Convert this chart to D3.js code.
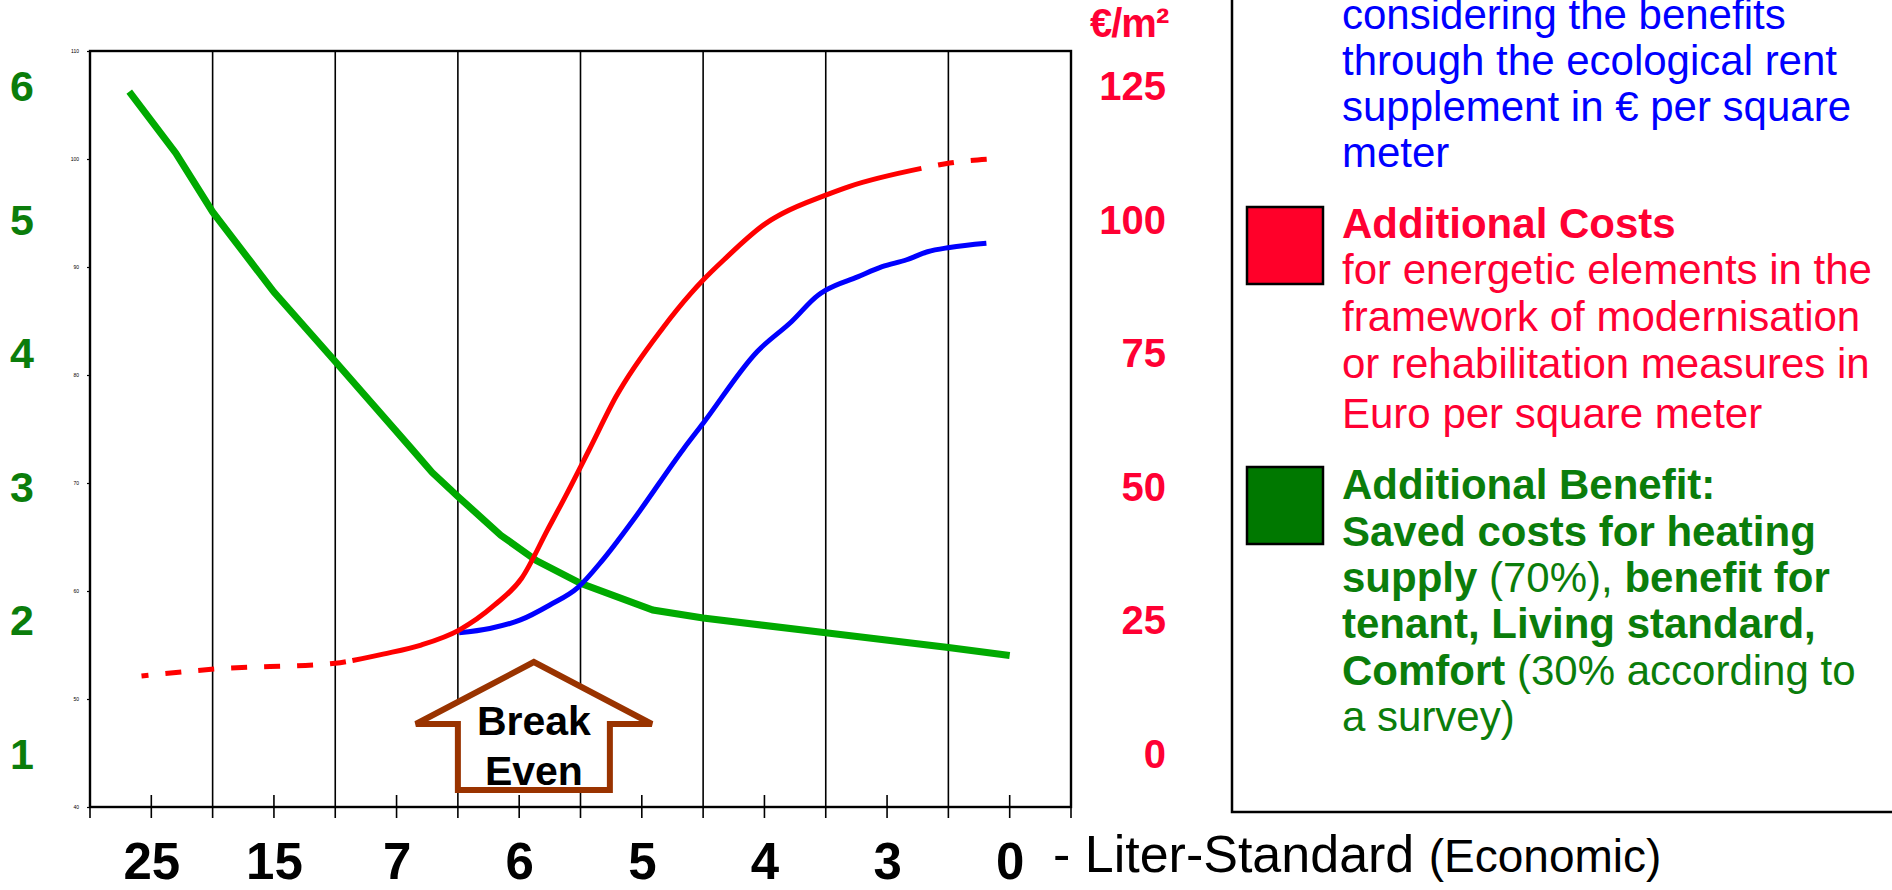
<!DOCTYPE html>
<html>
<head>
<meta charset="utf-8">
<script src="https://d3js.org/d3.v7.min.js"></script>
<style>
body { margin: 0; background: #fff; }
text { font-family: "Liberation Sans", Arial, sans-serif; }
</style>
</head>
<body>
<script>
// x categories (liter standard), left to right
var xLabels = ["25", "15", "7", "6", "5", "4", "3", "0"];
var benefitTicks = [1, 2, 3, 4, 5, 6];
var costTicks = [0, 25, 50, 75, 100, 125];
var baseTicks = [40, 50, 60, 70, 80, 90, 100, 110];

// [position along the x axis (0..8), value]
var benefit = [[0.32,5.95],[0.70,5.49],[1.0,5.05],[1.5,4.45],[2.0,3.93],[2.62,3.28],[2.79,3.10],[3.0,2.92],
	[3.35,2.63],[3.64,2.44],[4.0,2.27],[4.59,2.07],[5.0,2.01],[6.0,1.90],[7.0,1.79],[7.5,1.73]];
var costLowGuess = [[0.42,14.4],[1.01,15.7],[2.0,16.8],[2.14,17.3]];
var cost = [[2.14,17.3],[2.39,18.5],[2.70,20.2],[3.01,23.0],[3.30,27.7],[3.52,32.7],[3.73,41.7],[3.89,48.6],
	[4.07,56.7],[4.29,66.7],[4.67,79.5],[4.90,86.0],[5.0,88.5],[5.17,92.3],[5.53,99.4],[5.65,101.0],
	[6.0,104.4],[6.19,106.0],[6.78,109.4]];
var costHighGuess = [[6.78,109.4],[7.01,110.4],[7.32,111.1]];
var rentSupplement = [[3.01,22.5],[3.26,23.3],[3.51,24.9],[3.75,27.7],[3.98,31.0],[4.18,36.1],[4.43,43.6],
	[4.84,56.9],[5.0,61.7],[5.44,75.1],[5.72,80.7],[5.94,85.7],[6.0,86.6],[6.26,89.1],[6.46,91.0],
	[6.66,92.3],[6.83,93.8],[7.01,94.6],[7.31,95.4]];

var chart = {};
chart.w = 1892;
chart.h = 890;
chart.left = 90;
chart.right = 1071;
chart.top = 51;
chart.bottom = 807;

var greenText = "#0b7d0b";
var redText = "#ff0033";

var svg = d3.select("body").append("svg")
	.attr("width", chart.w)
	.attr("height", chart.h);

var x = d3.scaleLinear().domain([0, 8]).range([chart.left, chart.right]);
var yBenefit = d3.scaleLinear().domain([1, 6]).range([753, 85]);
var yCost = d3.scaleLinear().domain([0, 125]).range([753, 85]);
var yBase = d3.scaleLinear().domain([40, 110]).range([chart.bottom, chart.top]);

// vertical grid lines, running a bit under the axis
svg.append("g").selectAll("line")
	.data(d3.range(1, 8))
	.enter().append("line")
	.attr("x1", function(d){ return x(d); })
	.attr("x2", function(d){ return x(d); })
	.attr("y1", chart.top)
	.attr("y2", chart.bottom + 11)
	.style("stroke", "#000")
	.style("stroke-width", 1.6);

// small ticks in the middle of each category
svg.append("g").selectAll("line")
	.data(d3.range(0.5, 8, 1))
	.enter().append("line")
	.attr("x1", function(d){ return x(d); })
	.attr("x2", function(d){ return x(d); })
	.attr("y1", chart.bottom - 12)
	.attr("y2", chart.bottom + 11)
	.style("stroke", "#000")
	.style("stroke-width", 1.6);

svg.append("rect")
	.attr("x", chart.left)
	.attr("y", chart.top)
	.attr("width", chart.right - chart.left)
	.attr("height", chart.bottom - chart.top)
	.style("fill", "none")
	.style("stroke", "#000")
	.style("stroke-width", 2.4);

[0, 8].forEach(function(d){
	svg.append("line")
		.attr("x1", x(d)).attr("x2", x(d))
		.attr("y1", chart.bottom).attr("y2", chart.bottom + 11)
		.style("stroke", "#000").style("stroke-width", 1.6);
});

// tiny base axis on the left
var baseAxis = svg.append("g")
	.attr("transform", "translate(" + chart.left + ",0)")
	.call(d3.axisLeft(yBase).tickValues(baseTicks).tickSize(3).tickPadding(8));
baseAxis.select(".domain").remove();
baseAxis.selectAll("text").style("font-size", "5px").style("font-family", "Liberation Sans, Arial, sans-serif");
baseAxis.selectAll("line").style("stroke-width", 1.2);

// green benefit axis
var greenAxis = svg.append("g")
	.attr("transform", "translate(36,0)")
	.call(d3.axisLeft(yBenefit).tickValues(benefitTicks).tickSize(0).tickPadding(2)
		.tickFormat(d3.format("d")));
greenAxis.select(".domain").remove();
greenAxis.selectAll("text")
	.attr("dy", "0.36em")
	.style("font-size", "43px")
	.style("font-weight", "bold")
	.style("font-family", "Liberation Sans, Arial, sans-serif")
	.style("fill", greenText);

// red cost axis
var redAxis = svg.append("g")
	.attr("transform", "translate(1168,0)")
	.call(d3.axisLeft(yCost).tickValues(costTicks).tickSize(0).tickPadding(2)
		.tickFormat(d3.format("d")));
redAxis.select(".domain").remove();
redAxis.selectAll("text")
	.attr("dy", "0.36em")
	.style("font-size", "40px")
	.style("font-weight", "bold")
	.style("font-family", "Liberation Sans, Arial, sans-serif")
	.style("fill", redText);

svg.append("text")
	.attr("x", 1090)
	.attr("y", 37)
	.style("font-size", "40px")
	.style("font-weight", "bold")
	.style("letter-spacing", "-1px")
	.style("fill", redText)
	.text("€/m²");

// x axis labels
var xAxis = svg.append("g")
	.attr("transform", "translate(0," + chart.bottom + ")")
	.call(d3.axisBottom(x).tickValues(d3.range(0.5, 8, 1)).tickSize(0)
		.tickFormat(function(d, i){ return xLabels[i]; }));
xAxis.select(".domain").remove();
xAxis.selectAll("text")
	.attr("y", 72)
	.attr("dy", null)
	.style("font-size", "51px")
	.style("font-weight", "bold")
	.style("font-family", "Liberation Sans, Arial, sans-serif")
	.style("fill", "#000");

var xTitle = svg.append("text")
	.attr("x", 1053)
	.attr("y", 872)
	.style("fill", "#000");
xTitle.append("tspan").style("font-size", "52px").text("- Liter-Standard ");
xTitle.append("tspan").style("font-size", "46px").text("(Economic)");

// curves
var benefitLine = d3.line()
	.x(function(d){ return x(d[0]); })
	.y(function(d){ return yBenefit(d[1]); });
var costLine = d3.line()
	.curve(d3.curveMonotoneX)
	.x(function(d){ return x(d[0]); })
	.y(function(d){ return yCost(d[1]); });

svg.append("path")
	.attr("d", benefitLine(benefit))
	.style("fill", "none")
	.style("stroke", "#00aa00")
	.style("stroke-width", 7);

svg.append("path")
	.attr("d", costLine(rentSupplement))
	.style("fill", "none")
	.style("stroke", "#0000ff")
	.style("stroke-width", 5);

svg.append("path")
	.attr("d", costLine(cost))
	.style("fill", "none")
	.style("stroke", "#ff0000")
	.style("stroke-width", 5);

svg.append("path")
	.attr("d", costLine(costLowGuess))
	.style("fill", "none")
	.style("stroke", "#ff0000")
	.style("stroke-width", 5)
	.style("stroke-dasharray", "16,17")
	.style("stroke-dashoffset", 9);

svg.append("path")
	.attr("d", costLine(costHighGuess))
	.style("fill", "none")
	.style("stroke", "#ff0000")
	.style("stroke-width", 5)
	.style("stroke-dasharray", "16,17")
	.style("stroke-dashoffset", 16);

// break even arrow
var be = {};
be.left = x(3);
be.right = x(3) + 152;
be.cx = (be.left + be.right) / 2;
be.apex = 662;
be.wing = 724;
be.base = 790;
be.spread = 118;
svg.append("path")
	.attr("d", "M" + be.cx + "," + be.apex +
		"L" + (be.cx + be.spread) + "," + be.wing +
		"L" + be.right + "," + be.wing +
		"L" + be.right + "," + be.base +
		"L" + be.left + "," + be.base +
		"L" + be.left + "," + be.wing +
		"L" + (be.cx - be.spread) + "," + be.wing + "Z")
	.style("fill", "#fff")
	.style("stroke", "#993300")
	.style("stroke-width", 6)
	.style("stroke-linejoin", "miter");
svg.append("text").attr("x", be.cx).attr("y", 735).attr("text-anchor", "middle")
	.style("font-size", "41px").style("font-weight", "bold").text("Break");
svg.append("text").attr("x", be.cx).attr("y", 785).attr("text-anchor", "middle")
	.style("font-size", "41px").style("font-weight", "bold").text("Even");

// legend panel
svg.append("path")
	.attr("d", "M1232,0V812H" + chart.w)
	.style("fill", "none")
	.style("stroke", "#000")
	.style("stroke-width", 2.5);

function legendLines(lines, color){
	lines.forEach(function(l){
		var t = svg.append("text")
			.attr("x", 1342)
			.attr("y", l.y)
			.style("font-size", "42px")
			.style("fill", color);
		l.parts.forEach(function(p){
			t.append("tspan")
				.style("font-weight", p[1] ? "bold" : "normal")
				.text(p[0]);
		});
	});
}

legendLines([
	{y: 29, parts: [["considering the benefits", 0]]},
	{y: 75, parts: [["through the ecological rent", 0]]},
	{y: 121, parts: [["supplement in € per square", 0]]},
	{y: 167, parts: [["meter", 0]]}
], "#0000ff");

svg.append("rect")
	.attr("x", 1247).attr("y", 207).attr("width", 76).attr("height", 77)
	.style("fill", "#ff0029").style("stroke", "#000").style("stroke-width", 2.5);

legendLines([
	{y: 238, parts: [["Additional Costs", 1]]},
	{y: 284, parts: [["for energetic elements in the", 0]]},
	{y: 331, parts: [["framework of modernisation", 0]]},
	{y: 378, parts: [["or rehabilitation measures in", 0]]},
	{y: 428, parts: [["Euro per square meter", 0]]}
], redText);

svg.append("rect")
	.attr("x", 1247).attr("y", 467).attr("width", 76).attr("height", 77)
	.style("fill", "#007800").style("stroke", "#000").style("stroke-width", 2.5);

legendLines([
	{y: 499, parts: [["Additional Benefit:", 1]]},
	{y: 546, parts: [["Saved costs for heating", 1]]},
	{y: 592, parts: [["supply", 1], [" (70%), ", 0], ["benefit for", 1]]},
	{y: 638, parts: [["tenant, Living standard,", 1]]},
	{y: 685, parts: [["Comfort", 1], [" (30% according to", 0]]},
	{y: 731, parts: [["a survey)", 0]]}
], greenText);
</script>
</body>
</html>
